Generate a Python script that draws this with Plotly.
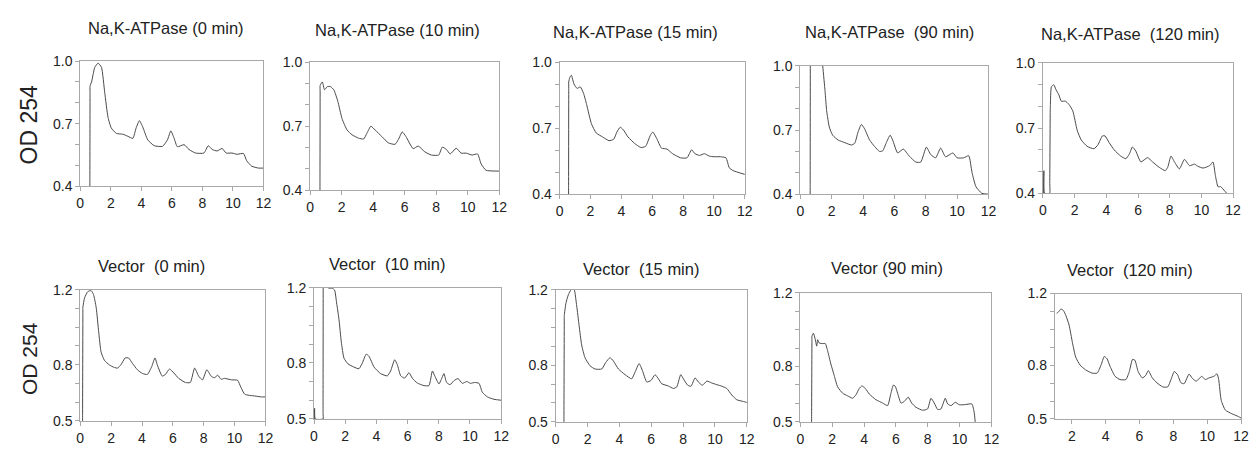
import plotly.graph_objects as go

# ---------------- data ----------------
titles = [
    "Na,K-ATPase (0 min)", "Na,K-ATPase (10 min)", "Na,K-ATPase (15 min)",
    "Na,K-ATPase\u00a0 (90 min)", "Na,K-ATPase\u00a0 (120 min)",
    "Vector\u00a0 (0 min)", "Vector\u00a0 (10 min)", "Vector\u00a0 (15 min)",
    "Vector (90 min)", "Vector\u00a0 (120 min)",
]

nak0_x = [0.63, 0.63, 0.64, 0.64, 0.74, 0.95, 1.17, 1.39, 1.6, 1.82, 2.03, 2.36, 2.79, 3.12, 3.44, 3.66, 3.87, 4.09,
          4.42, 4.85, 5.39, 5.71, 5.93, 6.15, 6.36, 6.8, 7.12, 7.55, 8.1, 8.38, 8.64, 8.96, 9.29, 9.55, 9.94, 10.26,
          10.69, 10.9, 11.23, 11.67, 12.0]
nak0_y = [0.4, 0.43, 0.85, 0.88, 0.90, 0.97, 0.99, 0.97, 0.85, 0.73, 0.68, 0.654, 0.65, 0.64, 0.63, 0.68, 0.715,
          0.685, 0.623, 0.595, 0.592, 0.623, 0.666, 0.63, 0.59, 0.60, 0.577, 0.56, 0.56, 0.595, 0.577, 0.57, 0.582,
          0.56, 0.56, 0.554, 0.558, 0.523, 0.497, 0.488, 0.488]

nak10_x = [0.63, 0.63, 0.64, 0.64, 0.78, 0.92, 1.09, 1.3, 1.51, 1.76, 2.03, 2.35, 2.66, 3.08, 3.4, 3.61, 3.86, 4.13,
           4.55, 4.97, 5.39, 5.6, 5.85, 6.08, 6.54, 6.86, 7.28, 7.7, 8.16, 8.39, 8.64, 8.89, 9.27, 9.58, 9.9, 10.28,
           10.63, 10.85, 11.16, 12.0]
nak10_y = [0.4, 0.43, 0.86, 0.89, 0.907, 0.87, 0.885, 0.885, 0.87, 0.817, 0.735, 0.682, 0.66, 0.644, 0.64, 0.667,
           0.70, 0.682, 0.652, 0.622, 0.615, 0.637, 0.673, 0.652, 0.595, 0.607, 0.58, 0.565, 0.565, 0.602, 0.592,
           0.57, 0.597, 0.574, 0.574, 0.565, 0.57, 0.524, 0.494, 0.49]

nak15_x = [0.58, 0.58, 0.59, 0.59, 0.66, 0.76, 0.93, 1.13, 1.34, 1.55, 1.75, 2.06, 2.37, 2.78, 3.2, 3.5, 3.71, 3.92,
           4.12, 4.43, 4.85, 5.26, 5.57, 5.88, 6.04, 6.29, 6.6, 6.95, 7.32, 7.84, 8.25, 8.56, 8.76, 9.07, 9.38, 9.69,
           10.0, 10.41, 10.78, 10.99, 11.24, 12.0]
nak15_y = [0.4, 0.43, 0.88, 0.91, 0.93, 0.94, 0.90, 0.88, 0.887, 0.858, 0.807, 0.72, 0.678, 0.66, 0.643, 0.649,
           0.682, 0.704, 0.693, 0.66, 0.631, 0.612, 0.617, 0.668, 0.682, 0.653, 0.609, 0.605, 0.584, 0.565, 0.565,
           0.602, 0.584, 0.576, 0.584, 0.573, 0.57, 0.57, 0.565, 0.52, 0.507, 0.49]

nak90_x = [0.63, 0.63, 0.64, 0.64, 1.0, 1.43, 1.58, 1.68, 1.85, 2.06, 2.42, 2.84, 3.26, 3.47, 3.68, 3.89, 4.1, 4.42,
           4.74, 5.05, 5.26, 5.47, 5.73, 5.89, 6.21, 6.57, 6.95, 7.37, 7.68, 8.04, 8.32, 8.63, 8.95, 9.26, 9.73, 10.0,
           10.42, 10.74, 10.95, 11.2, 11.58, 12.0]
nak90_y = [0.4, 0.43, 1.17, 1.2, 1.3, 1.0, 0.88, 0.79, 0.714, 0.676, 0.653, 0.641, 0.63, 0.638, 0.69, 0.726, 0.706,
           0.653, 0.623, 0.60, 0.603, 0.638, 0.676, 0.653, 0.593, 0.611, 0.578, 0.55, 0.55, 0.62, 0.585, 0.57, 0.616,
           0.575, 0.593, 0.57, 0.57, 0.58, 0.502, 0.435, 0.404, 0.40]

nak120_x = [0.04, 0.06, 0.1, 0.42, 0.43, 0.46, 0.47, 0.53, 0.68, 0.83, 1.0, 1.16, 1.42, 1.63, 1.88, 2.16, 2.41, 2.79,
            3.22, 3.47, 3.75, 3.92, 4.17, 4.49, 4.91, 5.23, 5.44, 5.65, 5.86, 6.18, 6.6, 6.92, 7.34, 7.72, 7.87, 8.08,
            8.3, 8.61, 8.93, 9.25, 9.57, 9.78, 10.1, 10.52, 10.73, 10.88, 11.05, 11.22, 11.47, 11.6]
nak120_y = [0.4, 0.504, 0.4, 0.4, 0.45, 0.78, 0.81, 0.89, 0.90, 0.876, 0.854, 0.824, 0.824, 0.81, 0.78, 0.69, 0.646,
            0.616, 0.605, 0.623, 0.664, 0.664, 0.634, 0.60, 0.571, 0.559, 0.579, 0.613, 0.594, 0.544, 0.564, 0.544,
            0.519, 0.504, 0.519, 0.571, 0.544, 0.512, 0.556, 0.527, 0.534, 0.524, 0.516, 0.527, 0.544, 0.482, 0.43,
            0.43, 0.41, 0.40]

vec0_x = [0.15, 0.15, 0.17, 0.17, 0.28, 0.49, 0.71, 0.86, 1.03, 1.2, 1.35, 1.56, 1.88, 2.21, 2.42, 2.63, 2.91, 3.13,
          3.38, 3.7, 4.03, 4.35, 4.63, 4.84, 4.99, 5.31, 5.52, 5.78, 6.06, 6.38, 6.81, 7.13, 7.41, 7.67, 7.92, 8.2,
          8.48, 8.69, 8.91, 9.12, 9.34, 9.81, 10.19, 10.41, 10.66, 11.31, 11.73, 12.0]
vec0_y = [0.5, 0.53, 1.08, 1.106, 1.157, 1.19, 1.195, 1.174, 1.106, 0.97, 0.867, 0.824, 0.799, 0.785, 0.782, 0.799,
          0.836, 0.836, 0.807, 0.773, 0.753, 0.748, 0.79, 0.836, 0.799, 0.739, 0.748, 0.777, 0.756, 0.727, 0.705,
          0.705, 0.782, 0.739, 0.719, 0.773, 0.739, 0.73, 0.744, 0.722, 0.727, 0.719, 0.717, 0.679, 0.642, 0.633,
          0.628, 0.628]

vec10_x = [0.02, 0.04, 0.08, 0.58, 0.58, 0.59, 0.59, 0.85, 0.9, 1.18, 1.32, 1.45, 1.6, 1.75, 1.92, 2.18, 2.56, 2.88,
           3.1, 3.35, 3.53, 3.85, 4.27, 4.7, 4.91, 5.17, 5.34, 5.56, 5.81, 6.09, 6.3, 6.62, 7.05, 7.37, 7.59, 7.74,
           8.01, 8.23, 8.33, 8.5, 8.72, 8.97, 9.23, 9.51, 9.79, 10.04, 10.3, 10.58, 10.79, 11.11, 11.54, 12.0]
vec10_y = [0.5, 0.557, 0.5, 0.5, 0.53, 1.27, 1.3, 1.3, 1.2, 1.197, 1.188, 1.119, 1.032, 0.911, 0.825, 0.794, 0.777,
           0.768, 0.799, 0.846, 0.834, 0.777, 0.742, 0.73, 0.756, 0.816, 0.79, 0.73, 0.718, 0.747, 0.718, 0.692,
           0.678, 0.678, 0.756, 0.73, 0.687, 0.725, 0.742, 0.695, 0.683, 0.704, 0.716, 0.69, 0.7, 0.69, 0.695, 0.69,
           0.643, 0.618, 0.605, 0.60]

vec15_x = [0.52, 0.52, 0.54, 0.54, 0.65, 0.8, 0.96, 1.05, 1.17, 1.32, 1.47, 1.63, 1.84, 2.16, 2.47, 2.89, 3.14, 3.41,
           3.62, 3.94, 4.36, 4.77, 4.98, 5.24, 5.45, 5.72, 5.99, 6.24, 6.45, 6.66, 7.08, 7.39, 7.6, 7.85, 8.02, 8.29,
           8.5, 8.75, 8.96, 9.21, 9.49, 9.8, 10.12, 10.43, 10.74, 11.06, 11.37, 11.79, 12.0]
vec15_y = [0.5, 0.53, 1.04, 1.063, 1.131, 1.174, 1.2, 1.21, 1.2, 1.114, 1.011, 0.908, 0.84, 0.797, 0.78, 0.78, 0.814,
           0.84, 0.823, 0.78, 0.75, 0.728, 0.763, 0.809, 0.771, 0.711, 0.72, 0.75, 0.728, 0.702, 0.69, 0.677, 0.685,
           0.75, 0.728, 0.694, 0.689, 0.733, 0.711, 0.694, 0.716, 0.706, 0.697, 0.689, 0.677, 0.642, 0.617, 0.608,
           0.603]

vec90_x = [0.71, 0.71, 0.73, 0.73, 0.82, 0.92, 1.03, 1.09, 1.19, 1.4, 1.57, 1.72, 1.92, 2.13, 2.34, 2.66, 2.97, 3.28,
           3.49, 3.7, 3.87, 4.08, 4.33, 4.75, 5.17, 5.48, 5.69, 5.84, 5.96, 6.11, 6.32, 6.53, 6.78, 6.99, 7.26, 7.68,
           7.99, 8.2, 8.41, 8.62, 8.83, 9.1, 9.25, 9.46, 9.73, 9.98, 10.29, 10.77, 10.92, 10.98]
vec90_y = [0.5, 0.53, 0.94, 0.963, 0.98, 0.954, 0.91, 0.945, 0.927, 0.924, 0.924, 0.883, 0.813, 0.751, 0.69, 0.655,
           0.641, 0.628, 0.646, 0.681, 0.695, 0.681, 0.651, 0.62, 0.602, 0.588, 0.655, 0.699, 0.693, 0.655, 0.602,
           0.611, 0.634, 0.602, 0.579, 0.563, 0.57, 0.628, 0.602, 0.567, 0.57, 0.628, 0.597, 0.588, 0.606, 0.593,
           0.593, 0.597, 0.549, 0.5]

vec120_x = [1.11, 1.2, 1.36, 1.51, 1.65, 1.84, 2.04, 2.23, 2.49, 2.82, 3.2, 3.5, 3.73, 3.92, 4.08, 4.27, 4.56,
            4.85, 5.2, 5.4, 5.59, 5.73, 5.92, 6.17, 6.37, 6.52, 6.76, 7.03, 7.38, 7.67, 7.86, 8.06, 8.25, 8.45, 8.64,
            8.93, 9.13, 9.36, 9.67, 9.9, 10.1, 10.39, 10.58, 10.68, 10.83, 11.07, 11.46, 11.84, 12.0]
vec120_y = [1.09, 1.096, 1.114, 1.105, 1.078, 1.025, 0.926, 0.846, 0.801, 0.774, 0.756, 0.756, 0.801, 0.849,
            0.837, 0.792, 0.738, 0.72, 0.72, 0.765, 0.833, 0.828, 0.765, 0.729, 0.744, 0.77, 0.729, 0.702, 0.679,
            0.679, 0.72, 0.765, 0.747, 0.702, 0.697, 0.751, 0.726, 0.711, 0.738, 0.72, 0.729, 0.738, 0.752, 0.72,
            0.604, 0.55, 0.529, 0.514, 0.505]

series_x = [nak0_x, nak10_x, nak15_x, nak90_x, nak120_x, vec0_x, vec10_x, vec15_x, vec90_x, vec120_x]
series_y = [nak0_y, nak10_y, nak15_y, nak90_y, nak120_y, vec0_y, vec10_y, vec15_y, vec90_y, vec120_y]

top_yticks = [0.4, 0.5, 0.6, 0.7, 0.8, 0.9, 1.0]
top_ylabels = ["0.4", "", "", "0.7", "", "", "1.0"]
bot_yticks = [0.5, 0.6, 0.7, 0.8, 0.9, 1.0, 1.1, 1.2]
bot_ylabels = ["0.5", "", "", "0.8", "", "", "", "1.2"]
xticks_full = [0, 2, 4, 6, 8, 10, 12]
xticks_last = [2, 4, 6, 8, 10, 12]
y_title = "OD 254"

# ---------------- layout (pixel boxes: left, right, top, bottom) ----------------
W, H = 1253, 454
boxes = [(77, 262, 55, 185), (309, 500, 56, 189), (561, 748, 56, 193), (804, 994, 60, 193),
         (1049, 1241, 57, 192),
         (77, 264, 292, 428), (313, 502, 290, 426), (557, 750, 292, 429), (804, 997, 295, 429),
         (1061, 1249, 296, 426)]
title_pos = [(164, 21), (397, 23), (638, 25), (894, 25), (1137, 27),
             (149, 267), (387, 265), (643, 271), (892, 270), (1137, 272)]

FONT = "Liberation Sans, Arial, sans-serif"
AX_COLOR = "#a8a8a8"

fig = go.Figure()
annotations = []
for i in range(10):
    suf = "" if i == 0 else str(i + 1)
    l, r, t, b = boxes[i]
    fig.add_trace(go.Scatter(x=series_x[i], y=series_y[i], mode="lines",
                             line=dict(color="#4a4a4a", width=1, shape="spline", smoothing=0.5),
                             xaxis="x" + suf, yaxis="y" + suf, showlegend=False,
                             hoverinfo="skip"))
    top = i < 5
    if i == 9:
        xr, xt = [1, 12], xticks_last
    else:
        xr, xt = [0, 12], xticks_full
    yr = [0.4, 1.0] if top else [0.5, 1.2]
    ytv = top_yticks if top else bot_yticks
    ytt = top_ylabels if top else bot_ylabels
    common = dict(showline=True, mirror=True, linecolor=AX_COLOR, linewidth=1,
                  ticks="outside", ticklen=4, tickcolor=AX_COLOR, tickwidth=1,
                  showgrid=False, zeroline=False,
                  tickfont=dict(family=FONT, size=14, color="#222"))
    fig.layout["xaxis" + suf] = dict(domain=[l / W, r / W], range=xr, tickvals=xt,
                                     anchor="y" + suf, **common)
    fig.layout["yaxis" + suf] = dict(domain=[1 - b / H, 1 - t / H], range=yr, tickvals=ytv,
                                     ticktext=ytt, anchor="x" + suf, **common)
    cx, cy = title_pos[i]
    annotations.append(dict(text=titles[i], x=cx / W, y=1 - cy / H, xref="paper", yref="paper",
                            xanchor="center", yanchor="middle", showarrow=False,
                            font=dict(family=FONT, size=16.5, color="#222")))

annotations.append(dict(text=y_title, x=25 / W, y=1 - 121 / H, xref="paper", yref="paper",
                        xanchor="center", yanchor="middle", showarrow=False, textangle=-90,
                        font=dict(family=FONT, size=23, color="#222")))
annotations.append(dict(text=y_title, x=25 / W, y=1 - 363 / H, xref="paper", yref="paper",
                        xanchor="center", yanchor="middle", showarrow=False, textangle=-90,
                        font=dict(family=FONT, size=21, color="#222")))

fig.update_layout(width=W, height=H, margin=dict(l=0, r=0, t=0, b=0),
                  paper_bgcolor="white", plot_bgcolor="white",
                  annotations=annotations)
fig.write_html("out.html")
